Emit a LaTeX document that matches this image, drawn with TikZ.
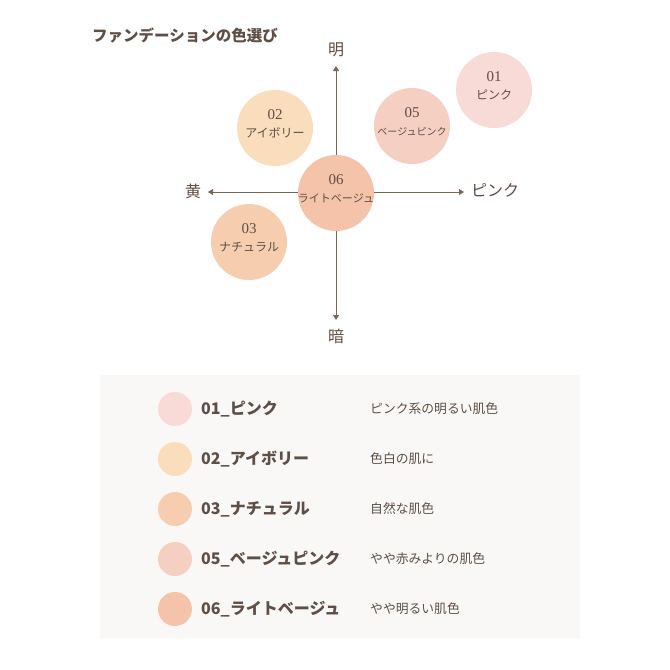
\documentclass[tikz,border=0pt]{standalone}
\usepackage{fontspec}
\usetikzlibrary{arrows.meta}
\setmainfont{Liberation Serif}
\newfontfamily\jp{Noto Sans CJK JP}
\definecolor{brn}{HTML}{5E4E45}
\definecolor{axisc}{HTML}{7A6658}
\definecolor{cA}{HTML}{F8DAD7}
\definecolor{cB}{HTML}{FADDBD}
\definecolor{cC}{HTML}{F6CEAF}
\definecolor{cE}{HTML}{F6CFC3}
\definecolor{cF}{HTML}{F4C3A9}
\definecolor{panel}{HTML}{FAF8F6}
\tikzset{
  x=1pt, y=-1pt,
  dot/.style={circle, fill=#1, minimum size=76pt, inner sep=0pt},
  dottext/.style={align=center, inner sep=0pt, text=brn, font=\jp\fontsize{12}{18}\selectfont},
  smalldot/.style={circle, fill=#1, minimum size=34pt, inner sep=0pt},
  axis/.style={draw=axisc, line width=0.9pt, -{Triangle[width=6pt,length=5pt]}},
  axlabel/.style={text=brn, font=\jp\fontsize{16}{18}\selectfont, inner sep=0pt},
  lbl/.style={anchor=west, text=brn, font=\jp\bfseries\fontsize{16}{18}\selectfont, inner sep=0pt},
  desc/.style={anchor=west, text=brn, font=\jp\fontsize{12.8}{14}\selectfont, inner sep=0pt},
}
\newcommand{\nm}[1]{{\rmfamily\fontsize{15}{17}\selectfont #1}}
\begin{document}
\begin{tikzpicture}
\useasboundingbox (0,0) rectangle (670,670);
\fill[white] (0,0) rectangle (670,670);
% title
\node[anchor=west, text=brn, font=\jp\bfseries\fontsize{15.5}{17}\selectfont, inner sep=0pt] (title) at (92,36) {ファンデーションの色選び};
% axes
\coordinate (c) at (336,192);
\coordinate (top) at (336,66);
\coordinate (bot) at (336,320);
\coordinate (lft) at (208,192);
\coordinate (rgt) at (464,192);
\draw[axis] (c) -- (top);
\draw[axis] (c) -- (bot);
\draw[axis] (c) -- (lft);
\draw[axis] (c) -- (rgt);
\node[axlabel] (ming) at (336,50) {明};
\node[axlabel] (an) at (336,336) {暗};
\node[axlabel] (huang) at (193,191) {黄};
\node[axlabel, anchor=west] (pink) at (471,190) {ピンク};
% circles
\node[dot=cF] (d06) at (336,193) {};
\node[dot=cB] (d02) at (275,128) {};
\node[dot=cE] (d05) at (412,126) {};
\node[dot=cA] (d01) at (494,90) {};
\node[dot=cC] (d03) at (249,242) {};
\node[dottext] (t06) at ([yshift=4pt]d06.center) {\nm{06}\\{\fontsize{11}{12}\selectfont ライトベージュ}};
\node[dottext] (t02) at ([yshift=4pt]d02.center) {\nm{02}\\アイボリー};
\node[dottext] (t05) at ([yshift=4pt]d05.center) {\nm{05}\\{\fontsize{10}{12}\selectfont ベージュピンク}};
\node[dottext] (t01) at ([yshift=4pt]d01.center) {\nm{01}\\ピンク};
\node[dottext] (t03) at ([yshift=4pt]d03.center) {\nm{03}\\ナチュラル};
% legend panel
\fill[panel] (100,375) rectangle (580,638);
\node[smalldot=cA] (s1) at (175,409) {};
\node[smalldot=cB] (s2) at (175,459) {};
\node[smalldot=cC] (s3) at (175,509) {};
\node[smalldot=cE] (s5) at (175,559) {};
\node[smalldot=cF] (s6) at (175,609) {};
\node[lbl] (l1) at (201,409) {01\_ピンク};
\node[lbl] (l2) at (201,459) {02\_アイボリー};
\node[lbl] (l3) at (201,509) {03\_ナチュラル};
\node[lbl] (l5) at (201,559) {05\_ベージュピンク};
\node[lbl] (l6) at (201,609) {06\_ライトベージュ};
\node[desc] (t1) at (370,409) {ピンク系の明るい肌色};
\node[desc] (t2) at (370,459) {色白の肌に};
\node[desc] (t3) at (370,509) {自然な肌色};
\node[desc] (t5) at (370,559) {やや赤みよりの肌色};
\node[desc] (t6) at (370,609) {やや明るい肌色};
\end{tikzpicture}
\end{document}
